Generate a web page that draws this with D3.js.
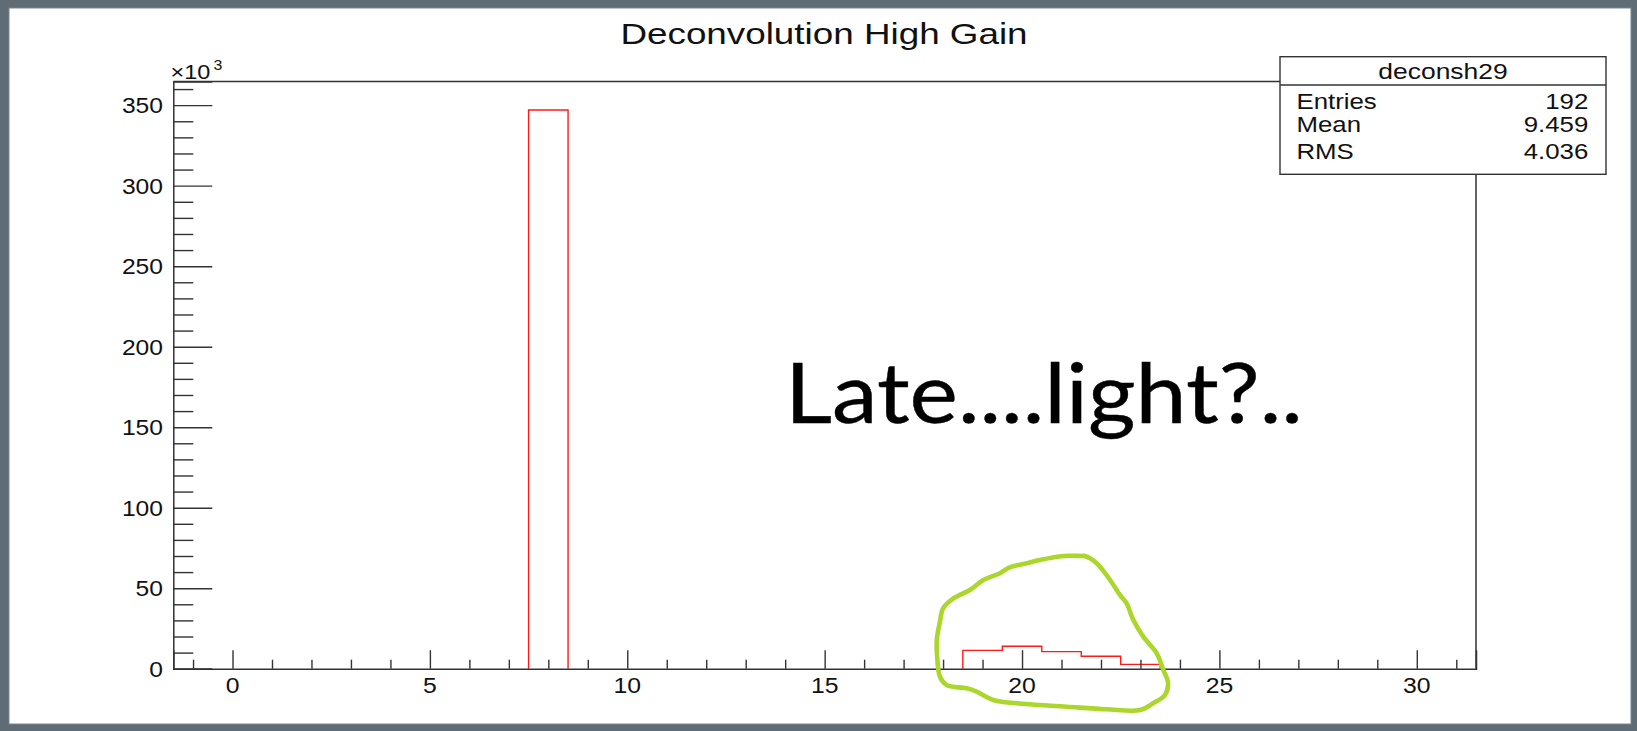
<!DOCTYPE html>
<html><head><meta charset="utf-8">
<script src="https://cdn.jsdelivr.net/npm/d3@7"></script>
<style>
html,body{margin:0;padding:0;background:#5f6b75;}
svg{display:block;}
</style></head>
<body>
<svg id="chart" width="1637" height="731"></svg>
<script>
// ---- data ----
const title = "Deconvolution High Gain";
const binCenters = [-1,0,1,2,3,4,5,6,7,8,9,10,11,12,13,14,15,16,17,18,19,20,21,22,23,24,25,26,27,28,29,30,31];
const binCounts  = [0,0,0,0,0,0,0,0,0,347,0,0,0,0,0,0,0,0,0,0,11.4,13.9,10.6,7.7,2.7,0,0,0,0,0,0,0,0]; // ×10^3
const xTickMajor = [0,5,10,15,20,25,30];
const xTickMinor = [-1,1,2,3,4,6,7,8,9,11,12,13,14,16,17,18,19,21,22,23,24,26,27,28,29,31];
const yTickMajor = [0,50,100,150,200,250,300,350];
const yTickMinor = [10,20,30,40,60,70,80,90,110,120,130,140,160,170,180,190,210,220,230,240,260,270,280,290,310,320,330,340,360];
const statsName = "deconsh29";
const statsLabels = ["Entries","Mean","RMS"];
const statsValues = ["192","9.459","4.036"];
const annotation = "Late....light?..";
// hand-drawn loop, in data coordinates (x units, y in ×10^3)
const loopX = [21.51,21.04,20.45,20.12,19.69,19.44,19.02,18.68,18.26,18.00,17.92,17.84,17.85,17.92,18.09,18.60,18.85,19.27,19.86,21.13,22.14,22.99,23.32,23.62,23.70,23.58,23.41,23.07,22.82,22.65,22.48,22.23,21.89,21.59];
const loopY = [70.0,70.0,67.5,65.5,63.0,59.3,55.1,48.9,43.7,37.5,29.2,17.8,7.5,-5.0,-10.1,-12.2,-14.3,-19.4,-21.5,-23.6,-25.2,-25.7,-21.5,-16.3,-9.1,-0.8,9.6,19.9,30.2,40.6,45.8,55.1,65.5,70.0];

// ---- layout ----
const svg = d3.select("#chart");
const plot = {left:173.3, right:1476, top:81.5, bottom:668.7};
const x = d3.scaleLinear().domain([-1.5, 31.5]).range([plot.left, plot.right]);
const y = d3.scaleLinear().domain([0, 364.7]).range([plot.bottom, plot.top]);
const axisColor = "#333";
const fontRoot = "'Liberation Sans', Arial, Helvetica, sans-serif";

function stext(g, str, px, py, size, anchor, sx){
  return g.append("text").text(str)
    .attr("transform", `translate(${px},${py}) scale(${sx||1.2},1)`)
    .attr("text-anchor", anchor || "start")
    .attr("font-family", fontRoot)
    .attr("font-size", size)
    .attr("fill", "#111");
}

// background panel
svg.append("rect").attr("x",0).attr("y",0).attr("width",1637).attr("height",731).attr("fill","#5f6b75");
svg.append("rect").attr("x",9).attr("y",8).attr("width",1622).attr("height",716).attr("fill","#fff")
  .attr("stroke","#7d8790").attr("stroke-width",1);

// histogram step outline (only runs of non-empty bins; empty bins lie on the axis)
const pts = [];
binCenters.forEach((c,i)=>{
  const v = binCounts[i], lo = c-0.5, hi = c+0.5;
  const prev = i>0 ? binCounts[i-1] : 0;
  const next = i<binCounts.length-1 ? binCounts[i+1] : 0;
  if(v>0){
    if(prev===0) pts.push([lo,0]);
    pts.push([lo,v]); pts.push([hi,v]);
    if(next===0){ pts.push([hi,0]); pts.push(null); }
  }
});
svg.append("path")
  .attr("d", d3.line().defined(d=>d!==null).x(d=>x(d[0])).y(d=>y(d[1]))(pts))
  .attr("fill","none").attr("stroke","#ff1a1a").attr("stroke-width",1.4);

// frame
svg.append("path")
  .attr("d", `M${plot.left},${plot.top}H${plot.right}V${plot.bottom}`)
  .attr("fill","none").attr("stroke",axisColor).attr("stroke-width",1.5);

// y axis
const yMaj = svg.append("g").attr("transform",`translate(${plot.left},0)`)
  .call(d3.axisLeft(y).tickValues(yTickMajor).tickSize(-39).tickFormat(""));
const yMin = svg.append("g").attr("transform",`translate(${plot.left},0)`)
  .call(d3.axisLeft(y).tickValues(yTickMinor).tickSize(-20).tickFormat(""));
// x axis
const xMaj = svg.append("g").attr("transform",`translate(0,${plot.bottom})`)
  .call(d3.axisBottom(x).tickValues(xTickMajor).tickSize(-18.5).tickFormat(""));
const xMin = svg.append("g").attr("transform",`translate(0,${plot.bottom})`)
  .call(d3.axisBottom(x).tickValues(xTickMinor).tickSize(-9).tickFormat(""));
[yMaj,yMin,xMaj,xMin].forEach(g=>{
  g.selectAll("path.domain").attr("stroke",axisColor).attr("stroke-width",1.5);
  g.selectAll(".tick line").attr("stroke",axisColor).attr("stroke-width",1.4);
});
yMin.select("path.domain").remove(); xMin.select("path.domain").remove();

// tick labels
const labG = svg.append("g");
yTickMajor.forEach(v=> stext(labG, String(v), 163, y(v)+8, 22, "end", 1.12));
xTickMajor.forEach(v=> stext(labG, String(v), x(v), 693, 22.5, "middle", 1.1));
stext(labG, "×10", 170.5, 79, 21, "start", 1.12);
stext(labG, "3", 213.5, 69.5, 14.5, "start", 1.1);

// title
stext(svg, title, 824, 43.5, 29, "middle", 1.27);

// stats box
const sb = {x:1280, y:56.7, w:326, h:117.6, sep:85};
svg.append("rect").attr("x",sb.x).attr("y",sb.y).attr("width",sb.w).attr("height",sb.h)
  .attr("fill","#fff").attr("stroke",axisColor).attr("stroke-width",1.4);
svg.append("line").attr("x1",sb.x).attr("x2",sb.x+sb.w).attr("y1",sb.sep).attr("y2",sb.sep)
  .attr("stroke",axisColor).attr("stroke-width",1.4);
stext(svg, statsName, sb.x+sb.w/2, 79, 21.5, "middle", 1.23);
const rowBase = [108.5, 131.5, 159];
statsLabels.forEach((l,i)=>{
  stext(svg, l, 1296.5, rowBase[i], 21.5, "start", 1.2);
  stext(svg, statsValues[i], 1588.3, rowBase[i], 21.5, "end", 1.2);
});

// annotation text
svg.append("text").text(annotation)
  .attr("x",785).attr("y",423)
  .attr("font-family","Lato, 'Open Sans', sans-serif")
  .attr("font-size",84)
  .attr("textLength",518).attr("lengthAdjust","spacingAndGlyphs")
  .attr("fill","#000").attr("stroke","#000").attr("stroke-width",0.4);

// hand-drawn loop
const loopPts = loopX.map((v,i)=>[v,loopY[i]]);
svg.append("path")
  .attr("d", d3.line().x(d=>x(d[0])).y(d=>y(d[1])).curve(d3.curveCatmullRomClosed.alpha(0.5))(loopPts))
  .attr("fill","none").attr("stroke","#abd62c").attr("stroke-width",4.6)
  .attr("stroke-linejoin","round");
</script>
</body></html>
